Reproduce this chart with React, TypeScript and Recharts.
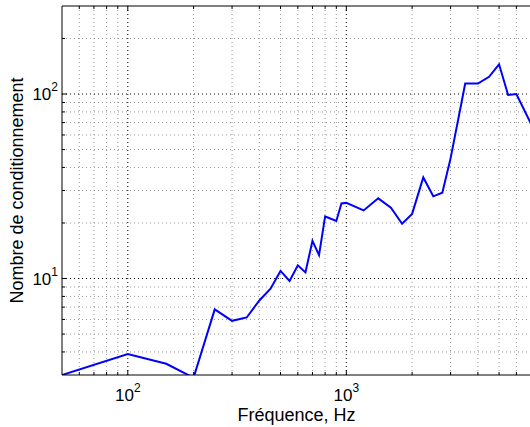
import { LineChart, Line, XAxis, YAxis, ReferenceLine } from "recharts"

// frequency (Hz) and condition number
const freqs = [
  50, 100, 150, 200, 250, 300, 350, 400, 450, 500, 550, 600, 650, 700, 750, 800, 900, 950, 1000, 1200, 1400, 1600,
  1800, 2000, 2250, 2500, 2750, 3000, 3500, 4000, 4500, 5000, 5500, 6000, 7000,
]
const condNumbers = [
  3.0, 3.9, 3.45, 2.9, 6.8, 5.9, 6.15, 7.6, 8.8, 11.0, 9.7, 11.8, 10.8, 16.0, 13.4, 21.7, 20.5, 25.5, 25.7, 23.4, 27.2,
  24.2, 19.8, 22.4, 35.3, 27.9, 29.2, 44.8, 114, 114, 124, 145, 98.8, 100, 69,
]

const xMajorTicks = [100, 1000]
const xMinorTicks = [60, 70, 80, 90, 200, 300, 400, 500, 600, 700, 800, 900, 2000, 3000, 4000, 5000, 6000]
const yMajorTicks = [10, 100]
const yMinorTicks = [4, 5, 6, 7, 8, 9, 20, 30, 40, 50, 60, 70, 80, 90, 200]

const data = freqs.map((f, i) => ({ f, cond: condNumbers[i] }))

const FONT = "'Liberation Sans', Arial, Helvetica, sans-serif"
const PLOT_TOP = 6

function XTick(props: any) {
  const { x, y, payload } = props
  const v = payload.value
  const major = xMajorTicks.includes(v)
  const len = major ? 5 : 3
  return (
    <g>
      <line x1={x} x2={x} y1={y} y2={y - len} stroke="#000" />
      <line x1={x} x2={x} y1={PLOT_TOP} y2={PLOT_TOP + len} stroke="#000" />
      {major && (
        <text x={x} y={y + 26} textAnchor="middle" fontSize={17} fontFamily={FONT} fill="#000">
          10
          <tspan dy={-9} fontSize={12}>
            {Math.round(Math.log10(v))}
          </tspan>
        </text>
      )}
    </g>
  )
}

function YTick(props: any) {
  const { x, y, payload } = props
  const v = payload.value
  const major = yMajorTicks.includes(v)
  const len = major ? 5 : 3
  return (
    <g>
      <line x1={x} x2={x + len} y1={y} y2={y} stroke="#000" />
      {major && (
        <text x={x - 4} y={y + 6} textAnchor="end" fontSize={17} fontFamily={FONT} fill="#000">
          10
          <tspan dy={-9} fontSize={12}>
            {Math.round(Math.log10(v))}
          </tspan>
        </text>
      )}
    </g>
  )
}

export default function App() {
  const xTicks = [...xMinorTicks, ...xMajorTicks].sort((a, b) => a - b)
  const yTicks = [...yMinorTicks, ...yMajorTicks].sort((a, b) => a - b)

  return (
    <div style={{ position: "fixed", left: 0, top: 0, width: 530, height: 427, overflow: "hidden", background: "#fff" }}>
      <LineChart width={532} height={427} data={data} margin={{ top: PLOT_TOP, right: 1, bottom: 0, left: 0 }}>
        {/* grid */}
        {xMinorTicks.map((v) => (
          <ReferenceLine key={"xm" + v} x={v} stroke="#999" strokeDasharray="1 3" />
        ))}
        {yMinorTicks.map((v) => (
          <ReferenceLine key={"ym" + v} y={v} stroke="#999" strokeDasharray="1 3" />
        ))}
        {xMajorTicks.map((v) => (
          <ReferenceLine key={"xM" + v} x={v} stroke="#000" strokeDasharray="1 3" />
        ))}
        {yMajorTicks.map((v) => (
          <ReferenceLine key={"yM" + v} y={v} stroke="#000" strokeDasharray="1 3" />
        ))}
        <ReferenceLine y={300} stroke="#000" />
        <XAxis
          dataKey="f"
          type="number"
          scale="log"
          domain={[50, 7000]}
          allowDataOverflow
          ticks={xTicks}
          interval={0}
          tickSize={0}
          tickMargin={0}
          tickLine={false}
          tick={XTick}
          height={52}
          axisLine={{ stroke: "#000" }}
        />
        <YAxis
          type="number"
          scale="log"
          domain={[3, 300]}
          allowDataOverflow
          ticks={yTicks}
          interval={0}
          tickSize={0}
          tickMargin={0}
          tickLine={false}
          tick={YTick}
          width={62}
          axisLine={{ stroke: "#000" }}
        />
        <Line
          type="linear"
          dataKey="cond"
          stroke="#0000ff"
          strokeWidth={2}
          dot={false}
          isAnimationActive={false}
        />
        <text x={296.5} y={421} textAnchor="middle" fontSize={18} fontFamily={FONT} fill="#000">
          Fréquence, Hz
        </text>
        <text
          x={23}
          y={190.5}
          transform="rotate(-90, 23, 190.5)"
          textAnchor="middle"
          fontSize={18}
          fontFamily={FONT}
          fill="#000"
        >
          Nombre de conditionnement
        </text>
      </LineChart>
    </div>
  )
}
